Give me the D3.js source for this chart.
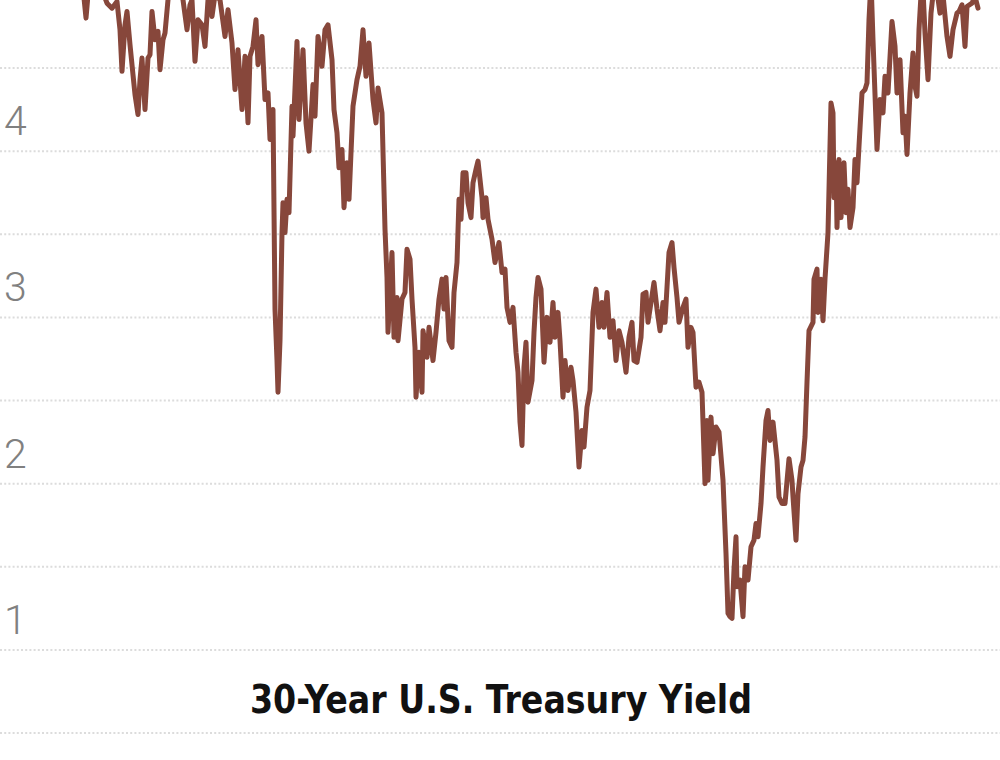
<!DOCTYPE html>
<html><head><meta charset="utf-8">
<script src="https://cdn.jsdelivr.net/npm/d3@7/dist/d3.min.js"></script>
<style>
html,body{margin:0;padding:0;background:#fff;}
svg{display:block;}
</style></head>
<body>
<script>
const years = [
2004.150,2004.225,2004.275,2004.450,2004.625,2004.750,2004.875,2005.000,2005.075,2005.125,
2005.200,2005.250,2005.325,2005.400,2005.450,2005.525,2005.575,2005.625,2005.700,2005.775,
2005.825,2005.875,2005.950,2006.025,2006.075,2006.150,2006.200,2006.275,2006.375,2006.525,
2006.650,2006.750,2006.825,2006.875,2006.950,2007.025,2007.125,2007.200,2007.275,2007.325,
2007.375,2007.450,2007.575,2007.700,2007.775,2007.875,2007.950,2008.025,2008.125,2008.200,
2008.275,2008.325,2008.400,2008.475,2008.525,2008.625,2008.700,2008.775,2008.825,2008.900,
2008.950,2009.000,2009.025,2009.075,2009.125,2009.150,2009.200,2009.250,2009.300,2009.375,
2009.400,2009.500,2009.550,2009.650,2009.725,2009.800,2009.900,2009.950,2010.025,2010.125,
2010.200,2010.275,2010.375,2010.425,2010.500,2010.550,2010.625,2010.675,2010.750,2010.800,
2010.900,2011.000,2011.075,2011.150,2011.225,2011.300,2011.400,2011.475,2011.525,2011.625,
2011.700,2011.750,2011.775,2011.875,2011.925,2012.000,2012.025,2012.125,2012.200,2012.250,
2012.325,2012.375,2012.450,2012.475,2012.550,2012.625,2012.650,2012.750,2012.800,2012.900,
2012.975,2013.050,2013.125,2013.175,2013.225,2013.300,2013.375,2013.425,2013.500,2013.550,
2013.600,2013.650,2013.725,2013.775,2013.850,2013.900,2013.975,2014.025,2014.125,2014.150,
2014.225,2014.275,2014.375,2014.450,2014.550,2014.625,2014.700,2014.750,2014.825,2014.900,
2014.975,2015.025,2015.075,2015.125,2015.175,2015.225,2015.275,2015.375,2015.425,2015.475,
2015.525,2015.600,2015.675,2015.750,2015.825,2015.900,2015.950,2016.025,2016.075,2016.150,
2016.200,2016.275,2016.350,2016.400,2016.475,2016.550,2016.625,2016.675,2016.750,2016.825,
2016.900,2016.975,2017.050,2017.125,2017.175,2017.250,2017.325,2017.400,2017.475,2017.550,
2017.625,2017.725,2017.800,2017.875,2017.925,2018.000,2018.100,2018.150,2018.225,2018.275,
2018.350,2018.425,2018.500,2018.575,2018.650,2018.700,2018.750,2018.800,2018.875,2018.925,
2019.000,2019.050,2019.150,2019.225,2019.275,2019.350,2019.400,2019.475,2019.550,2019.625,
2019.700,2019.750,2019.775,2019.850,2019.900,2019.975,2020.050,2020.150,2020.225,2020.275,
2020.325,2020.375,2020.425,2020.475,2020.500,2020.575,2020.650,2020.700,2020.775,2020.850,
2020.925,2020.975,2021.025,2021.100,2021.150,2021.225,2021.275,2021.325,2021.400,2021.500,
2021.550,2021.625,2021.700,2021.800,2021.875,2021.900,2021.975,2022.025,2022.100,2022.150,
2022.200,2022.250,2022.300,2022.400,2022.425,2022.500,2022.525,2022.600,2022.650,2022.700,
2022.775,2022.850,2022.900,2022.925,2022.975,2023.000,2023.050,2023.100,2023.175,2023.225,
2023.275,2023.325,2023.400,2023.450,2023.500,2023.550,2023.625,2023.700,2023.750,2023.800,
2023.850,2023.900,2024.000,2024.075,2024.150,2024.200,2024.275,2024.375,2024.450,2024.500,
2024.575,2024.650,2024.700,2024.750,2024.825,2024.900,2024.950,2025.000,2025.050,2025.100,
2025.150,2025.200,2025.275,2025.350,2025.400,2025.500,2025.575,2025.650,2025.750,2025.825,
2025.900,2026.000,2026.050,2026.125,2026.200,2026.250,2026.375,2026.450,2026.525
];
const yields = [
4.98,4.80,4.94,5.03,4.97,4.89,4.86,4.90,4.73,4.48,
4.76,4.84,4.64,4.46,4.34,4.22,4.43,4.56,4.25,4.56,
4.58,4.84,4.67,4.72,4.49,4.67,4.71,4.91,5.06,5.00,
4.91,4.73,4.88,4.91,4.54,4.79,4.76,4.63,4.91,4.97,
4.81,4.94,4.91,4.69,4.85,4.65,4.37,4.61,4.25,4.57,
4.17,4.57,4.63,4.79,4.52,4.69,4.31,4.35,4.07,4.25,
3.05,2.74,2.55,2.86,3.51,3.69,3.51,3.71,3.63,4.27,
4.09,4.66,4.19,4.61,4.17,4.00,4.40,4.21,4.69,4.51,
4.73,4.76,4.55,4.25,4.11,3.90,4.01,3.66,3.93,3.71,
4.27,4.43,4.51,4.73,4.45,4.65,4.31,4.17,4.38,4.23,
3.53,3.24,2.91,3.39,2.88,3.12,2.86,3.11,3.15,3.41,
3.35,3.11,2.82,2.52,2.79,2.55,2.92,2.76,2.94,2.74,
2.91,3.11,3.23,3.05,3.24,2.86,2.82,3.15,3.33,3.71,
3.59,3.87,3.87,3.69,3.60,3.81,3.89,3.94,3.72,3.60,
3.72,3.59,3.47,3.33,3.45,3.27,3.29,3.06,2.97,3.06,
2.79,2.67,2.37,2.23,2.70,2.85,2.49,2.62,2.91,3.12,
3.24,3.17,2.73,3.00,2.85,3.09,2.88,3.03,2.86,2.52,
2.74,2.56,2.70,2.62,2.43,2.10,2.32,2.22,2.46,2.56,
3.03,3.17,2.94,3.09,2.94,3.15,2.88,2.98,2.74,2.92,
2.85,2.67,2.88,2.97,2.74,2.73,2.88,3.14,3.15,2.97,
3.09,3.21,3.05,2.92,3.09,2.97,3.18,3.39,3.45,3.30,
3.12,2.97,3.06,3.11,2.82,2.94,2.91,2.58,2.61,2.55,
2.00,2.38,2.02,2.40,2.18,2.34,2.31,2.02,1.58,1.22,
1.20,1.19,1.48,1.68,1.38,1.42,1.20,1.50,1.42,1.62,
1.66,1.76,1.68,1.88,2.10,2.38,2.44,2.26,2.37,2.14,
1.92,1.88,1.88,2.15,2.02,1.92,1.66,1.94,2.10,2.14,
2.28,2.61,2.92,2.97,3.23,3.29,3.03,3.23,2.98,3.23,
3.51,4.29,4.23,3.72,3.93,3.54,3.95,3.60,3.93,3.63,
3.77,3.54,3.66,3.95,3.81,4.03,4.35,4.37,4.41,4.79,
5.03,4.67,4.01,4.31,4.23,4.45,4.35,4.78,4.63,4.35,
4.55,4.11,4.21,3.98,4.35,4.59,4.39,4.33,4.73,4.94,
4.97,4.71,4.43,4.83,4.94,4.96,4.83,4.94,4.69,4.57,
4.73,4.83,4.84,4.88,4.63,4.87,4.89,4.93,4.86
];
const gridValues = [0.5,1,1.5,2,2.5,3,3.5,4,4.5];
const tickLabels = ["1","2","3","4"];
const tickValues = [1,2,3,4];
const titleText = "30-Year U.S. Treasury Yield";

const W = 1000, H = 760;
const svg = d3.select("body").append("svg").attr("width", W).attr("height", H);

const x = d3.scaleLinear().domain([2004.15, 2026.525]).range([83, 978]);
const y = d3.scaleLinear().domain([0.5, 4.5]).range([733, 68]);

svg.append("g").selectAll("line").data(gridValues).join("line")
  .attr("x1", 0).attr("x2", W)
  .attr("y1", d => y(d)).attr("y2", d => y(d))
  .attr("stroke", "#dcdcdc").attr("stroke-width", 2)
  .attr("stroke-dasharray", "2,2.2");

svg.append("g").selectAll("text").data(tickValues).join("text")
  .attr("x", 4).attr("y", d => y(d) - 16)
  .text((d, i) => tickLabels[i])
  .attr("font-family", "Roboto, 'Open Sans', sans-serif")
  .attr("font-weight", 300)
  .attr("font-size", 41)
  .attr("fill", "#808080");

const data = years.map((yr, i) => ({yr, v: yields[i]}));
const line = d3.line().x(d => x(d.yr)).y(d => y(d.v));
svg.append("path").datum(data)
  .attr("d", line)
  .attr("fill", "none")
  .attr("stroke", "#87473b")
  .attr("stroke-width", 5)
  .attr("stroke-linejoin", "round")
  .attr("stroke-linecap", "round");

svg.append("text")
  .attr("x", 501).attr("y", 713)
  .attr("text-anchor", "middle")
  .attr("font-family", "'Liberation Sans Narrow', 'DejaVu Sans Condensed', 'Roboto', sans-serif")
  .attr("font-weight", 700)
  .attr("font-size", 39)
  .attr("fill", "#111")
  .attr("textLength", 502)
  .attr("lengthAdjust", "spacingAndGlyphs")
  .text(titleText);
</script>
</body></html>
